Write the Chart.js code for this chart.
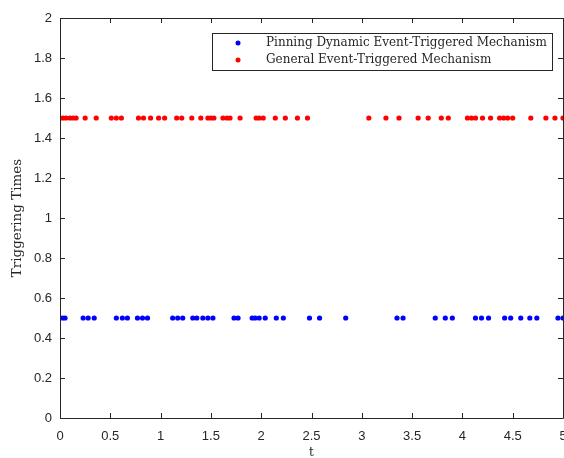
<!DOCTYPE html>
<html>
<head>
<meta charset="utf-8">
<script src="https://cdn.jsdelivr.net/npm/chart.js@4.4.1/dist/chart.umd.min.js"></script>
<style>
  html, body { margin: 0; padding: 0; background: #fff; }
  #wrap { width: 564px; height: 458px; }
</style>
</head>
<body>
<div id="wrap"><canvas id="c" width="564" height="458"></canvas></div>
<script>
// Triggering instants
const pinningTimes = [0, 0.025, 0.05, 0.23, 0.28, 0.34, 0.56, 0.62, 0.67, 0.77, 0.82, 0.87,
  1.12, 1.17, 1.22, 1.32, 1.36, 1.42, 1.47, 1.52, 1.73, 1.77, 1.91, 1.94, 1.98, 2.04,
  2.15, 2.22, 2.48, 2.58, 2.84, 3.35, 3.41, 3.73, 3.83, 3.90, 4.13, 4.19, 4.26,
  4.42, 4.48, 4.58, 4.67, 4.74, 4.95, 5.0];
const generalTimes = [0, 0.03, 0.06, 0.10, 0.13, 0.16, 0.25, 0.36, 0.51, 0.56, 0.61,
  0.78, 0.83, 0.90, 0.98, 1.04, 1.16, 1.21, 1.31, 1.40, 1.47, 1.50, 1.53,
  1.62, 1.66, 1.69, 1.79, 1.95, 1.98, 2.02, 2.14, 2.24, 2.36, 2.46,
  3.07, 3.24, 3.37, 3.56, 3.66, 3.79, 3.86, 4.05, 4.09, 4.13, 4.20, 4.28,
  4.37, 4.41, 4.45, 4.50, 4.68, 4.83, 4.92, 5.0];
const pinningLevel = 0.5;
const generalLevel = 1.5;
const seriesLabels = ['Pinning Dynamic Event-Triggered Mechanism', 'General Event-Triggered Mechanism'];
const xTicks = [0, 0.5, 1, 1.5, 2, 2.5, 3, 3.5, 4, 4.5, 5];
const yTicks = [0, 0.2, 0.4, 0.6, 0.8, 1, 1.2, 1.4, 1.6, 1.8, 2];
const xTitle = 't';
const yTitle = 'Triggering Times';

const AX = '#262626';
const SERIF = '"DejaVu Serif", "Liberation Serif", serif';

const boxPlugin = {
  id: 'matlabBox',
  afterDatasetsDraw(chart) {
    const { ctx, chartArea: a, scales } = chart;
    ctx.save();
    ctx.strokeStyle = AX;
    ctx.lineWidth = 1;
    ctx.beginPath();
    ctx.rect(Math.round(a.left) + 0.5, Math.round(a.top) + 0.5, Math.round(a.right - a.left), Math.round(a.bottom - a.top));
    ctx.stroke();
    const tl = 5;
    ctx.beginPath();
    xTicks.forEach(v => {
      const px = Math.round(scales.x.getPixelForValue(v)) + 0.5;
      ctx.moveTo(px, a.bottom); ctx.lineTo(px, a.bottom - tl);
      ctx.moveTo(px, a.top); ctx.lineTo(px, a.top + tl);
    });
    yTicks.forEach(v => {
      const py = Math.round(scales.y.getPixelForValue(v)) + 0.5;
      ctx.moveTo(a.left, py); ctx.lineTo(a.left + tl, py);
      ctx.moveTo(a.right, py); ctx.lineTo(a.right - tl, py);
    });
    ctx.stroke();

    // legend box
    const lx = 212, ly = 33, lw = 340, lh = 37;
    ctx.fillStyle = '#fff';
    ctx.fillRect(lx, ly, lw, lh);
    ctx.strokeStyle = AX;
    ctx.strokeRect(lx + 0.5, ly + 0.5, lw, lh);
    ctx.font = '12px ' + SERIF;
    ctx.textBaseline = 'middle';
    chart.data.datasets.forEach((ds, i) => {
      const cy = ly + 10 + i * 17;
      ctx.fillStyle = ds.backgroundColor;
      ctx.beginPath();
      ctx.arc(lx + 26, cy, 2.5, 0, Math.PI * 2);
      ctx.fill();
      ctx.fillStyle = AX;
      ctx.textAlign = 'left';
      ctx.fillText(ds.label, lx + 54, cy);
    });
    ctx.restore();
  }
};

new Chart(document.getElementById('c'), {
  type: 'scatter',
  data: {
    datasets: [
      {
        label: seriesLabels[0],
        data: pinningTimes.map(t => ({ x: t, y: pinningLevel })),
        backgroundColor: '#0000ff', borderColor: '#0000ff',
        pointRadius: 2.6, borderWidth: 0
      },
      {
        label: seriesLabels[1],
        data: generalTimes.map(t => ({ x: t, y: generalLevel })),
        backgroundColor: '#ff0000', borderColor: '#ff0000',
        pointRadius: 2.6, borderWidth: 0
      }
    ]
  },
  options: {
    responsive: false,
    animation: false,
    devicePixelRatio: 1,
    layout: { autoPadding: false, padding: { top: 18, right: 1, left: 9, bottom: 0 } },
    plugins: { legend: { display: false }, tooltip: { enabled: false } },
    scales: {
      x: {
        type: 'linear', min: 0, max: 5,
        afterBuildTicks: s => { s.ticks = xTicks.map(v => ({ value: v })); },
        afterFit: s => { s.height = 40; s.paddingLeft = 0; s.paddingRight = 0; },
        grid: { display: false, drawTicks: false },
        border: { display: false },
        ticks: { color: AX, font: { family: 'Liberation Sans, Arial, sans-serif', size: 13 }, padding: 11, maxRotation: 0, callback: v => String(v) },
        title: { display: true, text: xTitle, color: AX, font: { family: SERIF, size: 12 }, padding: { top: 0, bottom: -2 } }
      },
      y: {
        type: 'linear', min: 0, max: 2,
        afterBuildTicks: s => { s.ticks = yTicks.map(v => ({ value: v })); },
        afterFit: s => { s.width = 51; s.paddingTop = 0; s.paddingBottom = 0; },
        grid: { display: false, drawTicks: false },
        border: { display: false },
        ticks: { color: AX, font: { family: 'Liberation Sans, Arial, sans-serif', size: 13 }, padding: 8, callback: v => String(Math.round(v * 10) / 10) },
        title: { display: true, text: yTitle, color: AX, font: { family: SERIF, size: 13.5 }, padding: { top: 0, bottom: 4 } }
      }
    }
  },
  plugins: [boxPlugin]
});
</script>
</body>
</html>
